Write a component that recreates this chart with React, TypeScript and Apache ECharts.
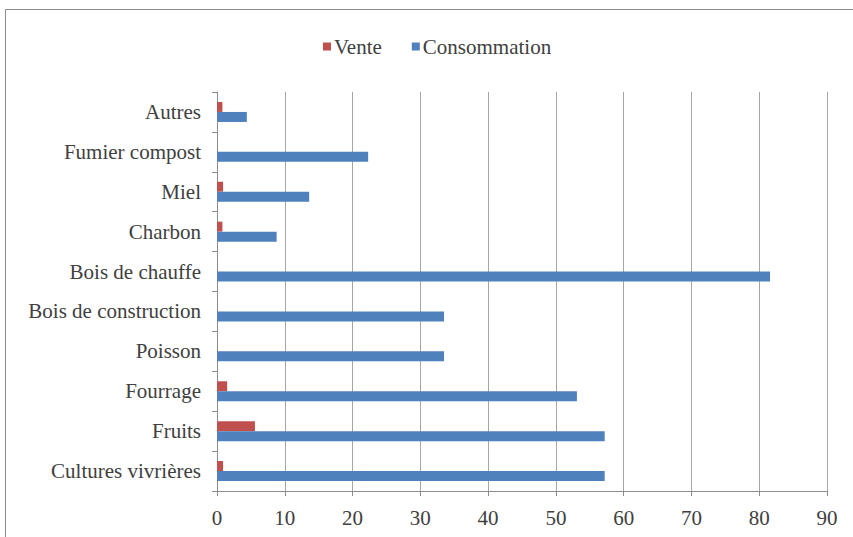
import React, { useEffect, useRef } from "react";
import * as echarts from "echarts";

const categories = [
  "Cultures vivrières",
  "Fruits",
  "Fourrage",
  "Poisson",
  "Bois de construction",
  "Bois de chauffe",
  "Charbon",
  "Miel",
  "Fumier compost",
  "Autres",
];
const vente = [0.9, 5.6, 1.5, 0, 0, 0, 0.8, 0.9, 0, 0.8];
const consommation = [57.2, 57.2, 53.1, 33.5, 33.5, 81.6, 8.8, 13.6, 22.3, 4.4];
const xTicks = [0, 10, 20, 30, 40, 50, 60, 70, 80, 90];

const FONT = "'Liberation Serif', 'Times New Roman', serif";

export default function App() {
  const ref = useRef<HTMLDivElement>(null);
  useEffect(() => {
    document.body.style.margin = "0";
    const chart = echarts.init(ref.current!, null, { renderer: "svg" });
    chart.setOption({
      animation: false,
      backgroundColor: "#ffffff",
      textStyle: { fontFamily: FONT },
      graphic: [
        {
          type: "rect",
          shape: { x: 5.5, y: 9.5, width: 900, height: 600 },
          style: { fill: "none", stroke: "#8c8c8c", lineWidth: 1 },
          silent: true,
        },
      ],
      legend: {
        top: 31,
        left: 318,
        itemWidth: 8,
        itemHeight: 8,
        itemGap: 30,
        icon: "rect",
        textStyle: { fontFamily: FONT, fontSize: 21, color: "#404040", padding: [0, 0, 0, -2] },
        data: ["Vente", "Consommation"],
      },
      grid: { left: 217, right: 26, top: 92, bottom: 46, outerBoundsMode: "none", containLabel: false },
      xAxis: {
        type: "value",
        min: xTicks[0],
        max: xTicks[xTicks.length - 1],
        interval: 10,
        axisLine: { show: true, lineStyle: { color: "#8c8c8c" } },
        axisTick: { show: true, length: 5, lineStyle: { color: "#8c8c8c" } },
        axisLabel: {
          fontFamily: FONT,
          fontSize: 21,
          color: "#404040",
          margin: 16,
          formatter: (v: number) => String(v),
        },
        splitLine: { show: true, lineStyle: { color: "#a6a6a6", width: 1 } },
      },
      yAxis: {
        type: "category",
        data: categories,
        axisLine: { show: true, lineStyle: { color: "#8c8c8c" } },
        axisTick: { show: true, length: 5, lineStyle: { color: "#8c8c8c" } },
        axisLabel: { fontFamily: FONT, fontSize: 21, color: "#404040", margin: 16 },
      },
      series: [
        {
          name: "Vente",
          type: "bar",
          data: vente,
          barWidth: 10,
          barGap: "0%",
          itemStyle: { color: "#C0504D" },
        },
        {
          name: "Consommation",
          type: "bar",
          data: consommation,
          barWidth: 10,
          barGap: "0%",
          itemStyle: { color: "#4F81BD" },
        },
      ],
    });
    return () => chart.dispose();
  }, []);
  return <div ref={ref} style={{ width: 853, height: 537 }} />;
}
